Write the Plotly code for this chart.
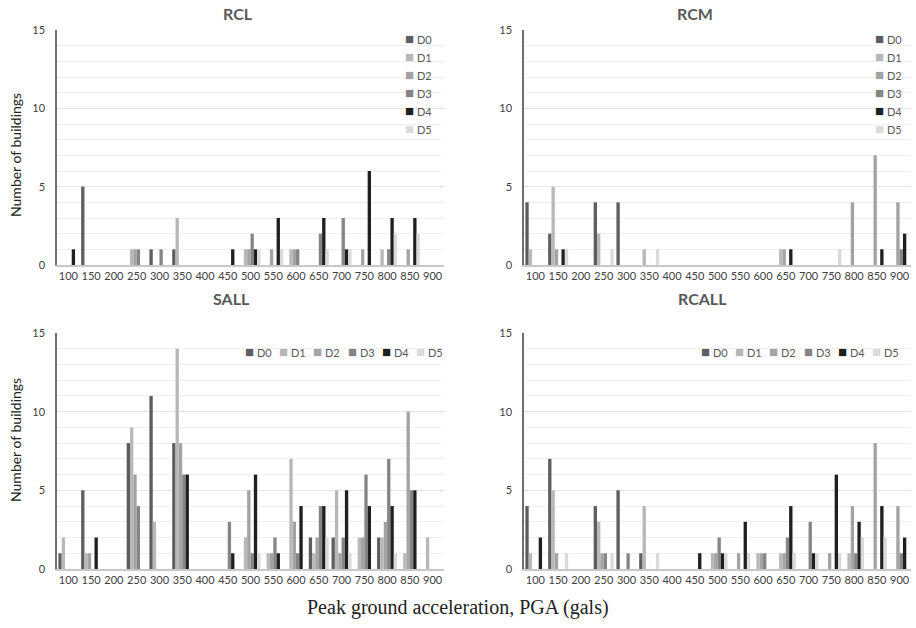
import plotly.graph_objects as go

W, H = 916, 628

categories = ["100", "150", "200", "250", "300", "350", "400", "450", "500",
              "550", "600", "650", "700", "750", "800", "850", "900"]
series_names = ["D0", "D1", "D2", "D3", "D4", "D5"]

# RCL
rcl_d0 = [0, 5, 0, 0, 1, 1, 0, 0, 0, 0, 0, 0, 0, 0, 0, 0, 0]
rcl_d1 = [0, 0, 0, 1, 0, 3, 0, 0, 1, 0, 1, 0, 0, 0, 1, 0, 0]
rcl_d2 = [0, 0, 0, 1, 0, 0, 0, 0, 1, 1, 1, 0, 0, 1, 0, 1, 0]
rcl_d3 = [0, 0, 0, 1, 1, 0, 0, 0, 2, 0, 1, 2, 3, 0, 1, 0, 0]
rcl_d4 = [1, 0, 0, 0, 0, 0, 0, 1, 1, 3, 0, 3, 1, 6, 3, 3, 0]
rcl_d5 = [0, 0, 0, 0, 0, 0, 0, 0, 1, 1, 0, 1, 1, 0, 2, 2, 0]

# RCM
rcm_d0 = [4, 2, 0, 4, 4, 0, 0, 0, 0, 0, 0, 0, 0, 0, 0, 0, 0]
rcm_d1 = [1, 5, 0, 2, 0, 1, 0, 0, 0, 0, 0, 1, 0, 0, 0, 0, 0]
rcm_d2 = [0, 1, 0, 0, 0, 0, 0, 0, 0, 0, 0, 1, 0, 0, 4, 7, 4]
rcm_d3 = [0, 0, 0, 0, 0, 0, 0, 0, 0, 0, 0, 0, 0, 0, 0, 0, 1]
rcm_d4 = [0, 1, 0, 0, 0, 0, 0, 0, 0, 0, 0, 1, 0, 0, 0, 1, 2]
rcm_d5 = [0, 1, 0, 1, 0, 1, 0, 0, 0, 0, 0, 0, 0, 1, 0, 0, 0]

# SALL
sall_d0 = [1, 5, 0, 8, 11, 8, 0, 0, 0, 0, 0, 2, 2, 0, 2, 0, 0]
sall_d1 = [2, 1, 0, 9, 3, 14, 0, 0, 2, 1, 7, 1, 5, 2, 2, 1, 2]
sall_d2 = [0, 1, 0, 6, 0, 8, 0, 0, 5, 1, 3, 2, 1, 2, 3, 10, 0]
sall_d3 = [0, 0, 0, 4, 0, 6, 0, 3, 1, 2, 1, 4, 2, 6, 7, 5, 0]
sall_d4 = [0, 2, 0, 0, 0, 6, 0, 1, 6, 1, 4, 4, 5, 4, 4, 5, 0]
sall_d5 = [0, 0, 0, 0, 0, 0, 0, 0, 1, 0, 0, 2, 1, 0, 1, 0, 0]

# RCALL
rcall_d0 = [4, 7, 0, 4, 5, 1, 0, 0, 0, 0, 0, 0, 0, 0, 0, 0, 0]
rcall_d1 = [1, 5, 0, 3, 0, 4, 0, 0, 1, 0, 1, 1, 0, 0, 1, 0, 0]
rcall_d2 = [0, 1, 0, 1, 0, 0, 0, 0, 1, 1, 1, 1, 0, 1, 4, 8, 4]
rcall_d3 = [0, 0, 0, 1, 1, 0, 0, 0, 2, 0, 1, 2, 3, 0, 1, 0, 1]
rcall_d4 = [2, 0, 0, 0, 0, 0, 0, 1, 1, 3, 0, 4, 1, 6, 3, 4, 2]
rcall_d5 = [0, 1, 0, 1, 0, 1, 0, 0, 1, 1, 0, 1, 1, 1, 2, 2, 0]

panels = [
    ("RCL", [rcl_d0, rcl_d1, rcl_d2, rcl_d3, rcl_d4, rcl_d5]),
    ("RCM", [rcm_d0, rcm_d1, rcm_d2, rcm_d3, rcm_d4, rcm_d5]),
    ("SALL", [sall_d0, sall_d1, sall_d2, sall_d3, sall_d4, sall_d5]),
    ("RCALL", [rcall_d0, rcall_d1, rcall_d2, rcall_d3, rcall_d4, rcall_d5]),
]

colors = ["#5e5e5e", "#b8b8b8", "#a3a3a3", "#858585", "#1f1f1f", "#dadada"]

# pixel layout of each panel: (x0, x1, ytop, ybottom)
boxes = [(57, 444, 30, 265), (524, 911, 30, 265),
         (57, 444, 333, 569), (524, 911, 333, 569)]
title_pos = [(238, 14), (695, 14), (232, 298), (702, 298)]

fig = go.Figure()
sans = "Lato, 'Open Sans', sans-serif"

for i, (name, series) in enumerate(panels):
    xa = "x" if i == 0 else f"x{i+1}"
    ya = "y" if i == 0 else f"y{i+1}"
    for j, vals in enumerate(series):
        fig.add_trace(go.Bar(
            x=categories, y=vals, name=series_names[j],
            marker=dict(color=colors[j], line=dict(width=0)),
            xaxis=xa, yaxis=ya, showlegend=False,
        ))
    x0, x1, yt, yb = boxes[i]
    axsuffix = "" if i == 0 else str(i + 1)
    fig.layout["xaxis" + axsuffix] = dict(
        domain=[x0 / W, x1 / W], anchor=ya, type="category",
        tickfont=dict(family=sans, size=11, color="#404040"),
        tickangle=0, automargin=False,
        showline=True, linecolor="#c8c8c8", linewidth=1.5,
        ticks="", showgrid=False, fixedrange=True,
    )
    fig.layout["yaxis" + axsuffix] = dict(
        domain=[1 - yb / H, 1 - yt / H], anchor=xa, range=[0, 15],
        tickvals=[0, 5, 10, 15], automargin=False,
        tickfont=dict(family=sans, size=11, color="#404040"),
        showline=True, linecolor="#6e6e6e", linewidth=1.5,
        showgrid=True, gridcolor="#e4e4e4", gridwidth=1,
        minor=dict(dtick=1, showgrid=True, gridcolor="#f0f0f0", gridwidth=1),
        zeroline=False, ticks="", ticklabelstandoff=8, fixedrange=True,
    )
    tx, ty = title_pos[i]
    fig.add_annotation(
        text=f"<b>{name}</b>", x=tx / W, y=1 - ty / H, xref="paper", yref="paper",
        showarrow=False, font=dict(family=sans, size=16, color="#595959"),
        xanchor="center", yanchor="middle",
    )


def legend_item(px, py, j):
    fig.add_annotation(
        text=(f"<span style='color:{colors[j]};font-size:15px'>■</span>"
              f" {series_names[j]}"),
        x=px / W, y=1 - py / H, xref="paper", yref="paper",
        showarrow=False, xanchor="left", yanchor="middle",
        font=dict(family=sans, size=11, color="#595959"),
    )


# vertical legends of the upper panels
for lx in (403, 873):
    for j in range(6):
        legend_item(lx, 38 + j * 18, j)

# horizontal legends of the lower panels
for lx in (243, 699):
    for j in range(6):
        legend_item(lx + j * 34.2, 351, j)

fig.add_annotation(
    text="Peak ground acceleration, PGA (gals)", x=458 / W, y=1 - 607 / H,
    xref="paper", yref="paper", showarrow=False, xanchor="center", yanchor="middle",
    font=dict(family="'Liberation Serif', 'DejaVu Serif', serif", size=20, color="#222222"),
)
for yc in (155, 440):
    fig.add_annotation(
        text="Number of buildings", x=15 / W, y=1 - yc / H, xref="paper", yref="paper",
        showarrow=False, textangle=-90, xanchor="center", yanchor="middle",
        font=dict(family=sans, size=14, color="#222222"),
    )

fig.update_layout(
    width=W, height=H, margin=dict(l=0, r=0, t=0, b=0, autoexpand=False),
    paper_bgcolor="white", plot_bgcolor="white",
    barmode="group", bargap=0.12, bargroupgap=0.0,
    showlegend=False,
)

fig.write_html(
    "out.html",
    config={"displayModeBar": False},
    post_script="document.body.style.margin='0';document.body.style.overflow='hidden';",
)
